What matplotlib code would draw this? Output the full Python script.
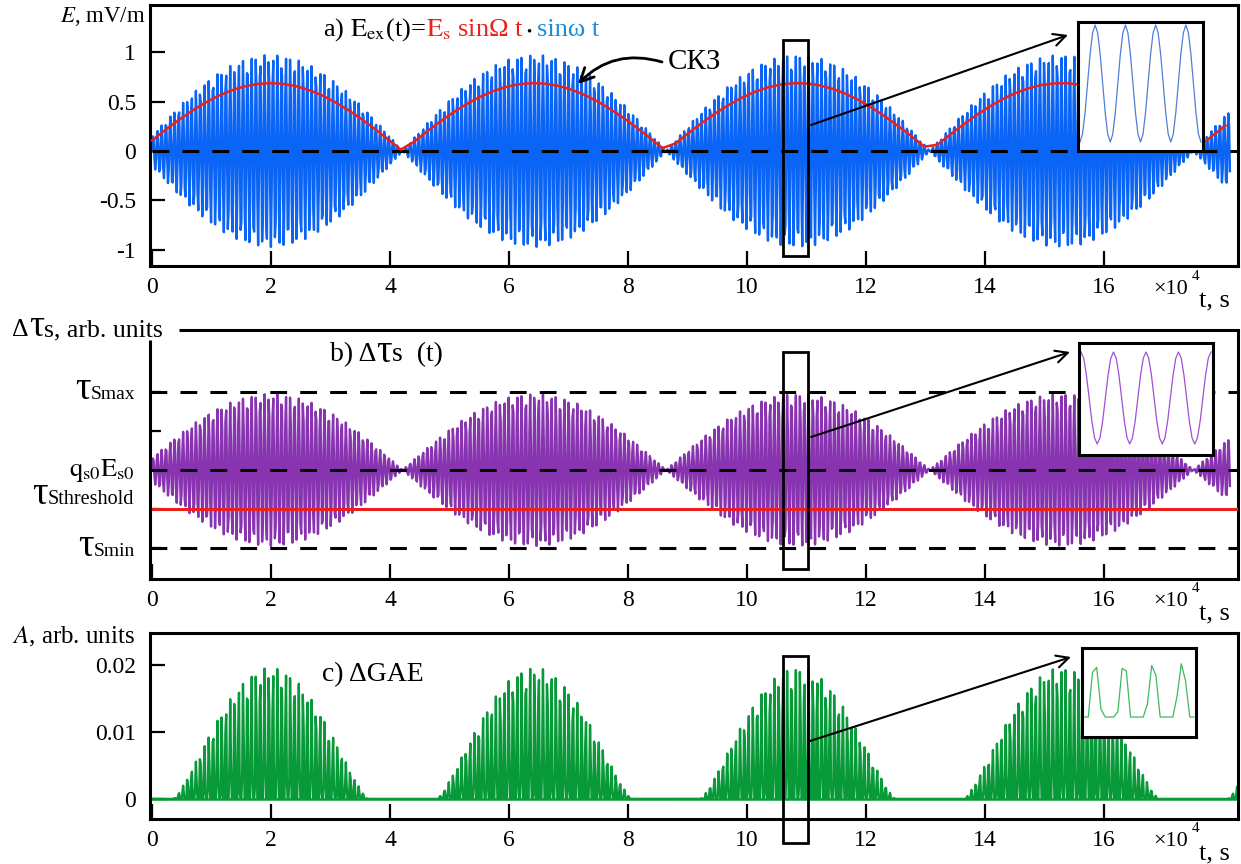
import numpy as np
import matplotlib
matplotlib.use('Agg')
import matplotlib.pyplot as plt
from matplotlib.offsetbox import TextArea, HPacker, AnnotationBbox
from matplotlib.patches import Rectangle
from matplotlib.lines import Line2D

plt.rcParams['font.family'] = ['Liberation Serif', 'DejaVu Serif']
plt.rcParams['mathtext.fontset'] = 'stix'

W, H = 1241, 864

# --- Values (t in units of 1e4 s) ---
T_END = 18.12
ENV_PERIOD = 4.43        # spacing of the envelope zeros
ENV_T0 = -0.22           # first envelope zero
E_PEAK = 0.97            # mV/m
CARRIER_PERIOD = 0.072
SAMPLES_PER_CYCLE = 5.37
RMS_STEP = 0.22
TAU_AMP = 1.95
TAU_MAX, TAU_Q, TAU_THR, TAU_MIN = 2.0, 0.0, -1.0, -2.0
GAE_PEAK = 0.0196
GAE_ENV_THR = 0.4        # envelope level where the GAE bursts start
GAE_POW = 1.3
GAE_PULSE_THR = 0.05

X_TICKS = [0, 2, 4, 6, 8, 10, 12, 14, 16]
E_TICKS = [-1, -0.5, 0, 0.5, 1]
E_TICKLABELS = ['-1', '-0.5', '0', '0.5', '1']
TAU_TICKS = [-2, -1, 0, 1, 2]
A_TICKS = [0, 0.01, 0.02]
A_TICKLABELS = ['0', '0.01', '0.02']

BLUE = '#0a64f5'
RED = '#e8211f'
PURPLE = '#8833b0'
GREEN = '#089a38'
FS = 17
SIG_LW = 1.7


def rect(l, t, r, b):
    return [l / W, 1 - b / H, (r - l) / W, (b - t) / H]


def envelope(tt):
    return np.abs(np.sin(np.pi * (tt - ENV_T0) / ENV_PERIOD))


t = np.arange(0, T_END, CARRIER_PERIOD / SAMPLES_PER_CYCLE)
env = envelope(t)
carrier = np.sin(2 * np.pi * t / CARRIER_PERIOD)
e_sig = E_PEAK * env * carrier
tau_sig = TAU_Q + TAU_AMP * env * carrier

t_g = np.arange(0, 18.25, CARRIER_PERIOD / SAMPLES_PER_CYCLE)
dome = (np.clip(envelope(t_g) - GAE_ENV_THR, 0, None) / (1 - GAE_ENV_THR)) ** GAE_POW
pulse = np.clip(np.sin(2 * np.pi * t_g / CARRIER_PERIOD) - GAE_PULSE_THR, 0, None) / (1 - GAE_PULSE_THR)
gae = GAE_PEAK * dome * pulse

t_rms = np.arange(0, T_END + 0.05, RMS_STEP)
rms = E_PEAK * envelope(t_rms) / np.sqrt(2)

fig = plt.figure(figsize=(W / 100, H / 100), dpi=100)

ax_a = fig.add_axes(rect(150, 5, 1238, 266))
ax_b = fig.add_axes(rect(150, 330, 1238, 579))
ax_c = fig.add_axes(rect(150, 633, 1238, 819))
XLIM = (-0.034, 18.25)

for ax in (ax_a, ax_b, ax_c):
    ax.set_xlim(*XLIM)
    ax.patch.set_visible(False)
    for s in ax.spines.values():
        s.set_linewidth(2.2)
    ax.set_xticks(X_TICKS)
    ax.set_xticklabels([str(v) for v in X_TICKS])
    ax.tick_params(direction='in', length=11, width=1.6, labelsize=FS,
                   top=False, right=False)
    ax.tick_params(axis='x', pad=8)
    ax.tick_params(axis='y', pad=10)

# --- panel a ---
ax_a.set_ylim(-1.162, 1.475)
ax_a.set_yticks(E_TICKS)
ax_a.set_yticklabels(E_TICKLABELS)
ax_a.plot(t, e_sig, color=BLUE, lw=SIG_LW, zorder=2)
ax_a.plot([0, XLIM[1]], [0, 0], color='k', lw=2.2, dashes=(5.5, 4.3), zorder=3)
ax_a.plot(t_rms, rms, color=RED, lw=1.8, zorder=4)

# --- panel b ---
ax_b.set_ylim(-2.795, 3.59)
ax_b.set_yticks(TAU_TICKS)
ax_b.set_yticklabels([])
ax_b.tick_params(axis='y', length=8)
ax_b.plot(t, tau_sig, color=PURPLE, lw=SIG_LW, zorder=2)
for lev in (TAU_MAX, TAU_Q, TAU_MIN):
    ax_b.axhline(lev, color='k', lw=2.2, dashes=(5.5, 4.3), zorder=3)
ax_b.axhline(TAU_THR, color=RED, lw=2.2, zorder=4)
ax_b.spines['left'].set_visible(False)
ax_b.spines['top'].set_visible(False)
fig.add_artist(Line2D([150 / W, 150 / W], [1 - 340 / H, 1 - 579 / H],
                      color='k', lw=2.2, solid_capstyle='butt'))
fig.add_artist(Line2D([179 / W, 1238 / W], [1 - 330 / H, 1 - 330 / H],
                      color='k', lw=2.2, solid_capstyle='butt'))

# --- panel c ---
ax_c.set_ylim(-0.003, 0.02478)
ax_c.set_yticks(A_TICKS)
ax_c.set_yticklabels(A_TICKLABELS)
ax_c.plot([0, XLIM[1]], [0, 0], color=GREEN, lw=1.8, zorder=2)
ax_c.plot(t_g, gae, color=GREEN, lw=SIG_LW, zorder=2)


# --- zoom boxes and arrows ---
def px_to_data(ax, x, y):
    inv = ax.transData.inverted()
    return inv.transform((x, H - y))


for ax, (top, bot), (sx, sy), (ex, ey) in (
        (ax_a, (40, 256), (811, 125), (1068, 35)),
        (ax_b, (352, 569), (811, 437), (1070, 352)),
        (ax_c, (656, 843), (810, 741), (1071, 657))):
    x0, y0 = px_to_data(ax, 783, bot)
    x1, y1 = px_to_data(ax, 808, top)
    ax.add_patch(Rectangle((x0, y0), x1 - x0, y1 - y0, fill=False, lw=2.0,
                           ec='k', clip_on=False, zorder=6))
    ax.annotate('', xy=px_to_data(ax, ex, ey), xytext=px_to_data(ax, sx, sy),
                arrowprops=dict(arrowstyle='->', lw=1.5, color='k',
                                mutation_scale=22, shrinkA=0, shrinkB=0),
                annotation_clip=False, zorder=6)

# СКЗ label and curved arrow
ax_a.annotate('', xy=px_to_data(ax_a, 578, 84), xytext=px_to_data(ax_a, 662, 62),
              arrowprops=dict(arrowstyle='->', lw=2.0, color='k', mutation_scale=24,
                              shrinkA=0, shrinkB=0, connectionstyle='arc3,rad=0.3'),
              zorder=6)
fig.text(668 / W, 1 - 62 / H, 'СКЗ', fontsize=21, va='center', ha='left')


# --- insets ---
def inset(l, t_, r, b):
    ax = fig.add_axes(rect(l, t_, r, b), zorder=10)
    ax.set_xticks([])
    ax.set_yticks([])
    for s in ax.spines.values():
        s.set_linewidth(2.2)
    return ax


ia = inset(1078, 22, 1203, 151)
ph = np.linspace(-np.pi / 2, -np.pi / 2 + 8 * np.pi, 4 * 12 + 1)
ia.plot(ph, np.sin(ph), color='#4f7fd5', lw=0.9)
k = 121 / (8 * np.pi)
ia.set_xlim(-np.pi / 2 - 2 / k, -np.pi / 2 + 8 * np.pi + 2 / k)
ia.set_ylim(-1.154, 1.051)

ib = inset(1079, 343, 1213, 455)
ph = np.linspace(0, 8 * np.pi, 4 * 12 + 1)
ib.plot(ph, np.cos(ph), color='#a24fd6', lw=0.9)
k = 130 / (8 * np.pi)
ib.set_xlim(-2 / k, 8 * np.pi + 2 / k)
ib.set_ylim(-1.239, 1.196)

ic = inset(1082, 648, 1196, 737)
ph = np.linspace(-2.38, 21.45, 27)
thr = 0.156
ic.plot(ph, np.clip(np.cos(ph) - thr, 0, None) / (1 - thr), color='#3dba5e', lw=0.9)
ic.set_xlim(-2.817, 21.88)
ic.set_ylim(-0.370, 1.278)


# --- texts ---
def place(children, x, y, align_x=0.0):
    box = HPacker(children=children, sep=0, pad=0, align='baseline')
    ab = AnnotationBbox(box, (x / W, 1 - y / H), xycoords='figure fraction',
                        box_alignment=(align_x, 0.5), frameon=False, pad=0,
                        annotation_clip=False)
    ab.set_zorder(12)
    fig.add_artist(ab)


def ta(s, size=FS, color='k'):
    return TextArea(s, textprops=dict(fontsize=size, color=color,
                                      family=['Liberation Serif', 'DejaVu Serif']))


place([ta(r'a) $\mathrm{E_{ex}}$(t)=', size=19),
       ta(r'$\mathrm{E_s}$ sinΩ t', size=19, color=RED),
       ta(' • ', size=11), ta('sinω t', size=19, color='#1a8bd6')], 323, 30)
place([ta('b) Δ', size=20), ta('τ', size=28), ta('s  (t)', size=20)], 330, 352)
place([ta('c) ΔGAE', size=20)], 322, 675)
place([ta('Δ', size=18.5), ta('τ', size=27), ta('s, arb. units', size=18.5)], 12, 327)

fig.text(145 / W, 1 - 17 / H, r'$E$, mV/m', fontsize=16.5, ha='right', va='center')
fig.text(135 / W, 1 - 637 / H, r'$A$, arb. units', fontsize=18, ha='right', va='center')

place([ta('τ', size=28), ta('Smax', size=14)], 135, 390, align_x=1.0)
place([ta(r'$\mathrm{q_{s0}E_{s0}}$', size=19)], 135, 470, align_x=1.0)
place([ta('τ', size=28), ta('Sthreshold', size=14.5)], 134, 494, align_x=1.0)
place([ta('τ', size=28), ta('Smin', size=14)], 135, 547, align_x=1.0)

for bottom in (266, 579, 819):
    fig.text(1153 / W, 1 - (bottom + 23) / H, '×10', fontsize=16, ha='left', va='center')
    fig.text(1192 / W, 1 - (bottom + 10) / H, '4', fontsize=11, ha='left', va='center')
    fig.text(1199 / W, 1 - (bottom + 35) / H, 't, s', fontsize=19, ha='left', va='center')

fig.savefig('out.png', dpi=100)
